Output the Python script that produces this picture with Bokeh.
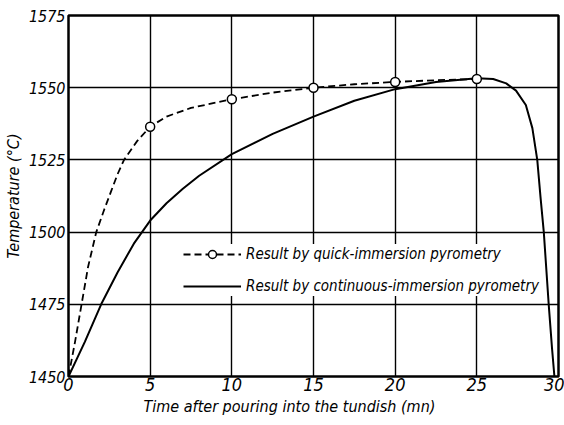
from bokeh.plotting import figure
from bokeh.models import FixedTicker, Legend, LegendItem, Title, Range1d
from bokeh.embed import file_html
from bokeh.resources import INLINE

# Quick-immersion measurements (open circles)
quick_x = [5, 10, 15, 20, 25]
quick_y = [1536.5, 1546, 1550, 1552, 1553]

# Dashed curve through the quick-immersion results
quick_curve_x = [0, 0.4, 0.8, 1.2, 1.7, 2.2, 2.6, 3.0, 3.4, 4.2, 5, 6, 7.5, 10, 12.5, 15, 17.5, 20, 22.5, 25]
quick_curve_y = [1450, 1462, 1475, 1488, 1500, 1508, 1514, 1520, 1525, 1531.5, 1536.5, 1540, 1543, 1546, 1548.3, 1550, 1551.2, 1552, 1552.6, 1553]

# Continuous-immersion curve (solid)
cont_x = [0, 1, 2, 3, 4, 4.5, 5, 6, 7, 8, 10, 12.5, 15, 17.5, 20, 22.5, 25, 26, 26.8, 27.4, 28, 28.4, 28.7, 28.9, 29.1, 29.4, 29.6, 29.75]
cont_y = [1450, 1462, 1475, 1486, 1496, 1500, 1504, 1510, 1515, 1519.5, 1527, 1534, 1540, 1545.5, 1549.5, 1552, 1553.3, 1553, 1551.5, 1549, 1544, 1536, 1525, 1512, 1500, 1475, 1460, 1450]

x_ticks = [0, 5, 10, 15, 20, 25, 30]
y_ticks = [1450, 1475, 1500, 1525, 1550, 1575]

FONT = "DejaVu Sans Condensed"

p = figure(width=564, height=424, x_range=Range1d(0, 30), y_range=Range1d(1450, 1575),
           output_backend="svg", toolbar_location=None,
           min_border_left=67, min_border_top=15, min_border_right=6, min_border_bottom=48)

p.outline_line_color = "black"
p.outline_line_width = 2.5
p.background_fill_color = "white"
p.border_fill_color = "white"

for ax in (p.xaxis[0], p.yaxis[0]):
    ax.axis_line_color = None
    ax.major_tick_line_color = None
    ax.minor_tick_line_color = None
    ax.major_tick_out = 0
    ax.major_tick_in = 0
    ax.minor_tick_out = 0
    ax.minor_tick_in = 0
    ax.major_label_text_font = FONT
    ax.major_label_text_font_style = "italic"
    ax.major_label_text_color = "black"

p.xaxis.ticker = FixedTicker(ticks=x_ticks)
p.yaxis.ticker = FixedTicker(ticks=y_ticks)
p.xaxis.major_label_text_font_size = "18px"
p.yaxis.major_label_text_font_size = "16px"
p.xaxis.major_label_standoff = 1
p.yaxis.major_label_standoff = 3

p.yaxis.axis_label = "Temperature (°C)"
p.yaxis.axis_label_text_font = FONT
p.yaxis.axis_label_text_font_style = "italic"
p.yaxis.axis_label_text_font_size = "16px"
p.yaxis.axis_label_text_color = "black"
p.yaxis.axis_label_standoff = 3

p.xgrid.ticker = FixedTicker(ticks=x_ticks)
p.ygrid.ticker = FixedTicker(ticks=y_ticks)
for g in (p.xgrid[0], p.ygrid[0]):
    g.grid_line_color = "black"
    g.grid_line_width = 1.4

r_dash = p.line(quick_curve_x, quick_curve_y, line_color="black", line_width=1.8, line_dash="7 4")
r_cont = p.line(cont_x, cont_y, line_color="black", line_width=2)
r_pts = p.scatter(quick_x, quick_y, marker="circle", size=9, fill_color="white",
                  line_color="black", line_width=1.5)

legend = Legend(items=[
    LegendItem(label="Result by quick-immersion pyrometry", renderers=[r_dash, r_pts]),
    LegendItem(label="Result by continuous-immersion pyrometry", renderers=[r_cont]),
], location=(115, 80))
legend.label_text_font = FONT
legend.label_text_font_style = "italic"
legend.label_text_font_size = "15px"
legend.label_text_color = "black"
legend.glyph_width = 58
legend.glyph_height = 20
legend.label_standoff = 5
legend.spacing = 12
legend.padding = 3
legend.margin = 0
legend.border_line_color = None
legend.background_fill_color = "white"
legend.background_fill_alpha = 1.0
legend.level = "underlay"
p.add_layout(legend)

title = Title(text="Time after pouring into the tundish (mn)", align="left", offset=75,
              text_font=FONT, text_font_style="italic", text_font_size="16px",
              text_color="black", standoff=2)
p.add_layout(title, "below")

open("out.html", "w").write(file_html(p, INLINE))
